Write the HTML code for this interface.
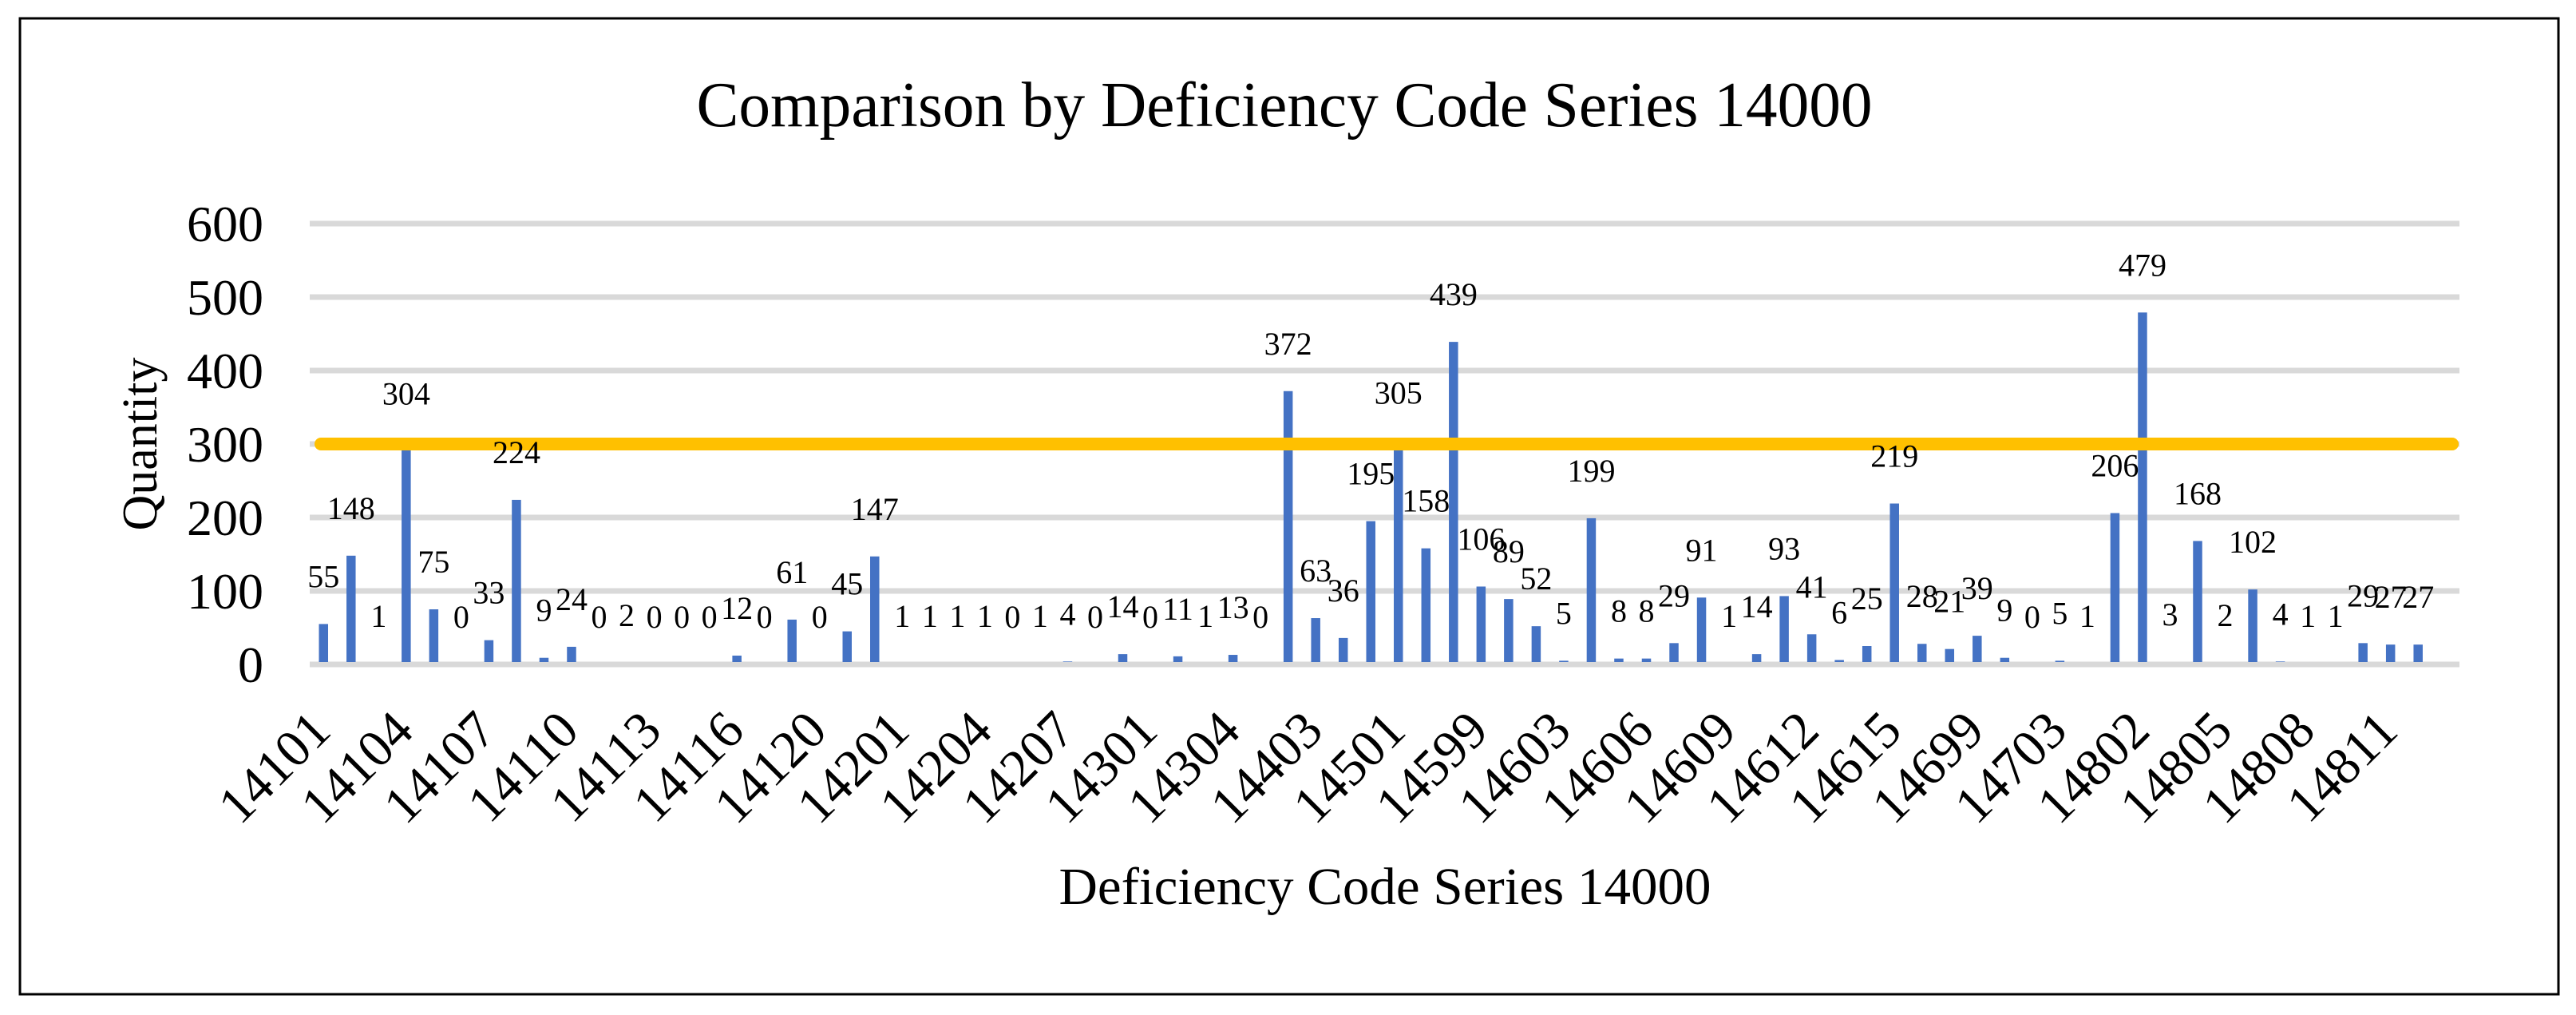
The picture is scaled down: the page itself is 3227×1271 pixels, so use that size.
<!DOCTYPE html>
<html><head><meta charset="utf-8"><style>
html,body{margin:0;padding:0;background:#fff;}
svg{display:block;font-family:"Liberation Serif","Times New Roman",serif;}
</style></head><body>
<svg id="chart" width="3227" height="1271" viewBox="0 0 3227 1271" xmlns="http://www.w3.org/2000/svg">
<rect x="25" y="23" width="3180" height="1222" fill="#fff" stroke="#000" stroke-width="3"/>
<text x="1609" y="158" font-size="80" text-anchor="middle" textLength="1473" lengthAdjust="spacingAndGlyphs">Comparison by Deficiency Code Series 14000</text>
<text transform="translate(196,556) rotate(-90)" font-size="62" text-anchor="middle">Quantity</text>
<text x="1735" y="1132" font-size="66" text-anchor="middle" textLength="817" lengthAdjust="spacingAndGlyphs">Deficiency Code Series 14000</text>
<g id="grid"></g><g id="yticks"></g><g id="bars"></g><g id="thr"></g><g id="labels"></g><g id="xticks"></g>
</svg>
<script>
const categories = ["14101","14102","14103","14104","14105","14106","14107","14108","14109","14110","14111","14112","14113","14114","14115","14116","14117","14118","14120","14121","14199","14201","14202","14203","14204","14205","14206","14207","14208","14299","14301","14302","14303","14304","14399","14401","14403","14404","14499","14501","14502","14503","14599","14601","14602","14603","14604","14605","14606","14607","14608","14609","14610","14611","14612","14613","14614","14615","14616","14617","14699","14701","14702","14703","14799","14801","14802","14803","14804","14805","14806","14807","14808","14809","14810","14811","14812",""];
const values = [55,148,1,304,75,0,33,224,9,24,0,2,0,0,0,12,0,61,0,45,147,1,1,1,1,0,1,4,0,14,0,11,1,13,0,372,63,36,195,305,158,439,106,89,52,5,199,8,8,29,91,1,14,93,41,6,25,219,28,21,39,9,0,5,1,206,479,3,168,2,102,4,1,1,29,27,27,null];
const yTicks = [0,100,200,300,400,500,600];
const threshold = 300;
const tickEvery = 3;

const NS="http://www.w3.org/2000/svg";
const X0=388, X1=3081, Y0=832, YTOP=280, YMAX=600;
const band=(X1-X0)/categories.length;
function xScale(i){return X0+band*(i+0.5);}
function yScale(v){return Y0-(v/YMAX)*(Y0-YTOP);}
function mk(tag,parent){const e=document.createElementNS(NS,tag);document.getElementById(parent).appendChild(e);return e;}

yTicks.forEach(t=>{
  const l=mk('line','grid');
  
  
  l.setAttribute('x1',X0);l.setAttribute('x2',X1);l.setAttribute('y1',yScale(t));l.setAttribute('y2',yScale(t));
  l.setAttribute('stroke','#d9d9d9');l.setAttribute('stroke-width','7');
  const tx=mk('text','yticks');
  
  
  tx.setAttribute('x',330);tx.setAttribute('y',yScale(t)+22);
  tx.setAttribute('font-size','64');tx.setAttribute('text-anchor','end');
  tx.textContent=t;
});

values.forEach((v,i)=>{
  if(v===null) return;
  const cx=xScale(i);
  const r=mk('rect','bars');
  
  
  r.setAttribute('x',cx-5.75);r.setAttribute('width',11.5);
  r.setAttribute('y',yScale(v));r.setAttribute('height',Math.max(0,Y0-3-yScale(v)));
  r.setAttribute('fill','#4472c4');
  const t=mk('text','labels');
  
  
  t.setAttribute('x',cx);t.setAttribute('y',yScale(v)-46);
  t.setAttribute('font-size','40');t.setAttribute('text-anchor','middle');
  t.textContent=v;
});

const th=mk('line','thr');


th.setAttribute('x1',402);th.setAttribute('x2',3072);
th.setAttribute('y1',yScale(threshold));th.setAttribute('y2',yScale(threshold));
th.setAttribute('stroke','#ffc000');th.setAttribute('stroke-width','16');th.setAttribute('stroke-linecap','round');

categories.forEach((c,i)=>{
  if(i%tickEvery!==0||!c) return;
  const t=mk('text','xticks');
  
  
  const ax=xScale(i)+12, ay=918;
  t.setAttribute('transform','translate('+ax+','+ay+') rotate(-45)');
  t.setAttribute('font-size','66');t.setAttribute('text-anchor','end');
  t.textContent=c;
});
</script>
</body></html>
